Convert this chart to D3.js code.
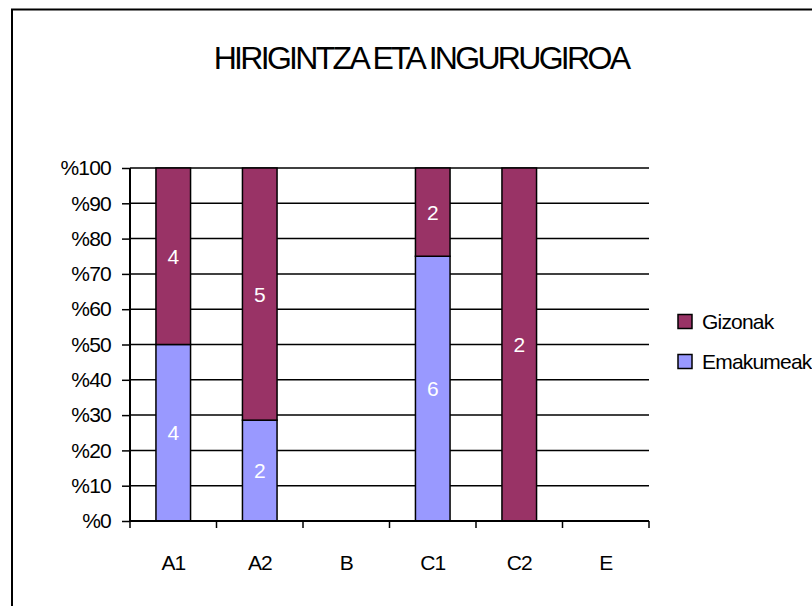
<!DOCTYPE html>
<html>
<head>
<meta charset="utf-8">
<script src="https://cdn.jsdelivr.net/npm/d3@7/dist/d3.min.js"></script>
<style>
  html, body { margin: 0; padding: 0; background: #fff; }
  svg { display: block; }
  text { font-family: "Liberation Sans", Arial, sans-serif; }
</style>
</head>
<body>
<svg id="chart" width="812" height="606"></svg>
<script>
const title = "HIRIGINTZA ETA INGURUGIROA";
const categories = ["A1", "A2", "B", "C1", "C2", "E"];
const seriesNames = ["Emakumeak", "Gizonak"];
const emakumeak = [4, 2, 0, 6, 0, 0];
const gizonak = [4, 5, 0, 2, 2, 0];
const seriesColors = ["#9999FF", "#993366"];
const yTicks = [0, 10, 20, 30, 40, 50, 60, 70, 80, 90, 100];
const yTickLabels = yTicks.map(v => "%" + v);

const svg = d3.select("#chart");
const m = { left: 130, right: 649, top: 168, bottom: 521 };

// outer border
svg.append("rect").attr("x", 12).attr("y", 9.5).attr("width", 830).attr("height", 640)
  .attr("fill", "none").attr("stroke", "#000").attr("stroke-width", 2);

svg.append("text").attr("x", 421).attr("y", 69)
  .attr("text-anchor", "middle").attr("font-size", 32).attr("letter-spacing", -2.7)
  .text(title);

const x = d3.scaleBand().domain(categories).range([m.left, m.right]).padding(0);
const y = d3.scaleLinear().domain([0, 100]).range([m.bottom, m.top]);

// gridlines
svg.append("g").selectAll("line").data(yTicks).join("line")
  .attr("x1", m.left).attr("x2", m.right)
  .attr("y1", d => y(d)).attr("y2", d => y(d))
  .attr("stroke", "#000").attr("stroke-width", 1.5);

// data stacks
const rows = categories.map((c, i) => ({ cat: c, Emakumeak: emakumeak[i], Gizonak: gizonak[i] }));
const stack = d3.stack().keys(seriesNames).offset(d3.stackOffsetExpand);
const stacked = stack(rows);
const bw = x.bandwidth() * 0.4;

stacked.forEach((layer, si) => {
  const g = svg.append("g");
  layer.forEach((d, i) => {
    const v = layer.key === "Emakumeak" ? emakumeak[i] : gizonak[i];
    if (!v) return;
    const x0 = x(categories[i]) + (x.bandwidth() - bw) / 2;
    const y0 = y(d[1] * 100), y1 = y(d[0] * 100);
    g.append("rect").attr("x", x0).attr("y", y0).attr("width", bw).attr("height", y1 - y0)
      .attr("fill", seriesColors[si]).attr("stroke", "#000").attr("stroke-width", 1.5);
    g.append("text").attr("x", x0 + bw / 2).attr("y", (y0 + y1) / 2)
      .attr("dy", "0.36em").attr("text-anchor", "middle")
      .attr("font-size", 21).attr("fill", "#fff").text(v);
  });
});

// y axis
const yAxis = svg.append("g").attr("transform", `translate(${m.left},0)`)
  .call(d3.axisLeft(y).tickValues(yTicks).tickFormat((d, i) => yTickLabels[i]).tickSize(8).tickPadding(11));
yAxis.select(".domain").attr("stroke", "#000").attr("stroke-width", 2).attr("d", `M0,${m.top}V${m.bottom}`);
yAxis.selectAll(".tick line").attr("stroke", "#000").attr("stroke-width", 1.5);
yAxis.selectAll(".tick text").attr("font-size", 21).attr("letter-spacing", -0.8).attr("fill", "#000")
  .attr("font-family", "Liberation Sans, Arial, sans-serif");

// x axis
const xAxis = svg.append("g").attr("transform", `translate(0,${m.bottom})`);
xAxis.append("line").attr("x1", m.left).attr("x2", m.right).attr("y1", 0).attr("y2", 0)
  .attr("stroke", "#000").attr("stroke-width", 2);
const boundaries = categories.map(c => x(c)).concat([m.right]);
xAxis.selectAll("line.t").data(boundaries).join("line").attr("class", "t")
  .attr("x1", d => d).attr("x2", d => d).attr("y1", 0).attr("y2", 7)
  .attr("stroke", "#000").attr("stroke-width", 1.5);
xAxis.selectAll("text").data(categories).join("text")
  .attr("x", d => x(d) + x.bandwidth() / 2).attr("y", 41)
  .attr("dy", "0.36em").attr("text-anchor", "middle")
  .attr("font-size", 21).attr("letter-spacing", -1).text(d => d);

// legend
const legendItems = ["Gizonak", "Emakumeak"];
const legendColors = ["#993366", "#9999FF"];
const lg = svg.append("g");
legendItems.forEach((name, i) => {
  const cy = 321.5 + i * 40;
  lg.append("rect").attr("x", 678).attr("y", cy - 7).attr("width", 14).attr("height", 14)
    .attr("fill", legendColors[i]).attr("stroke", "#000").attr("stroke-width", 1.5);
  lg.append("text").attr("x", 702).attr("y", cy).attr("dy", "0.36em")
    .attr("font-size", 21).attr("letter-spacing", -0.8).text(name);
});
</script>
</body>
</html>
